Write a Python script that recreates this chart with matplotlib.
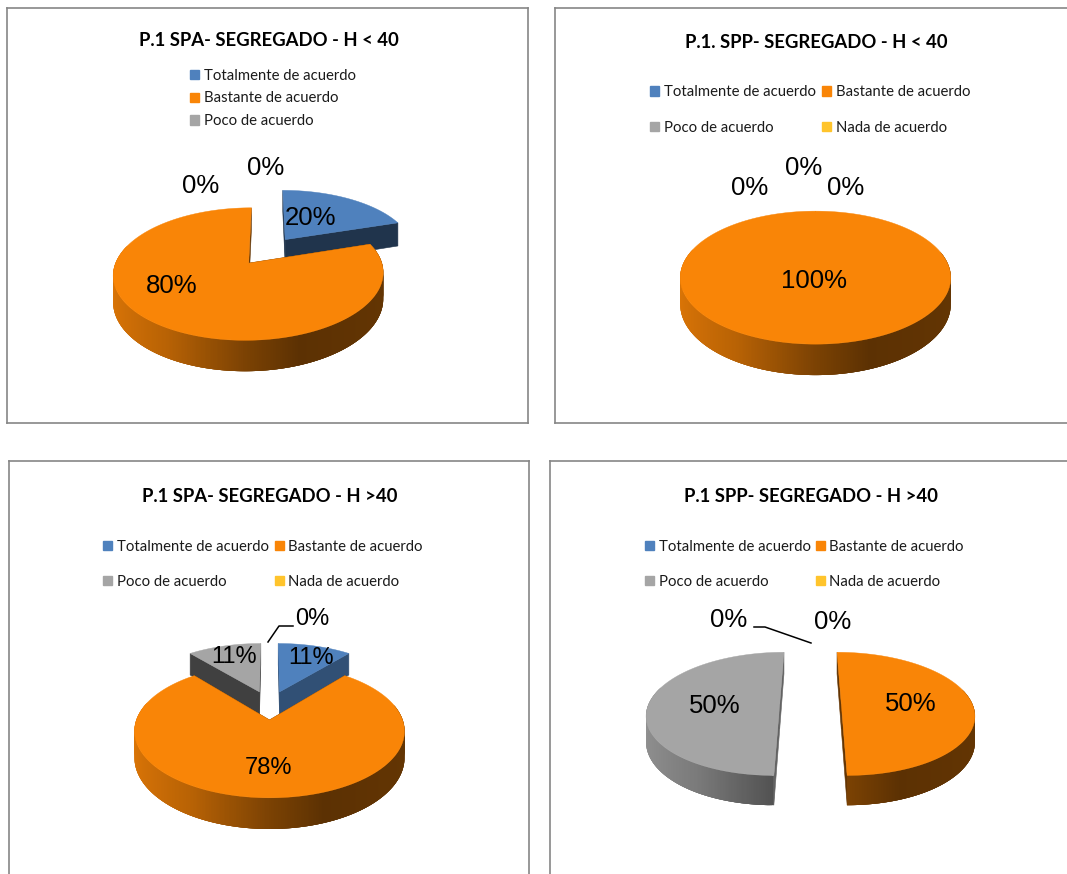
import numpy as np
import matplotlib
matplotlib.use('Agg')
import matplotlib.pyplot as plt
from matplotlib.patches import Patch

W, H = 1067, 874

# data
categories = ['Totalmente de acuerdo', 'Bastante de acuerdo', 'Poco de acuerdo', 'Nada de acuerdo']
titles = ['P.1 SPA- SEGREGADO - H < 40', 'P.1. SPP- SEGREGADO - H < 40',
          'P.1 SPA- SEGREGADO - H >40', 'P.1 SPP- SEGREGADO - H >40']
spa_low = [20, 80, 0, 0]
spp_low = [0, 100, 0, 0]
spa_high = [11, 78, 11, 0]
spp_high = [0, 50, 50, 0]

colors = ['#4F81BD', '#F98507', '#A5A5A5', '#FFC42C']


def shade_of(th):
    # wall gets darker from left to right
    return np.interp(np.sin(th), [-1, -0.5, 0, 0.35, 1], [0.88, 0.74, 0.5, 0.37, 0.40])


def darker(col, f):
    return np.array(matplotlib.colors.to_rgb(col)) * f


def project(X, Z, p):
    w = 1 + p['k'] * Z
    return p['cx'] + p['R'] * X / w, p['cy'] - p['S'] * Z / w, w


def pie3d(ax, values, p):
    fr = np.array(values, dtype=float) / sum(values)
    ends = np.cumsum(fr) * 2 * np.pi
    starts = ends - fr * 2 * np.pi
    todo = []
    for i in range(len(values)):
        if values[i] == 0:
            continue
        mid = (starts[i] + ends[i]) / 2
        ox, oz = p['e'] * np.sin(mid), p['e'] * np.cos(mid)
        todo.append((oz, i, ox))
    todo.sort(reverse=True)
    for oz, i, ox in todo:
        col = colors[i]
        th = np.linspace(starts[i], ends[i], max(int((ends[i] - starts[i]) * 90), 2))
        X = np.concatenate([[ox], ox + np.sin(th), [ox]])
        Z = np.concatenate([[oz], oz + np.cos(th), [oz]])
        x, y, w = project(X, Z, p)
        d = p['D'] / w
        # cut faces
        if values[i] < sum(values):
            cs = p['cut'][i]
            ax.fill([x[0], x[1], x[1], x[0]], [y[0], y[1], y[1] + d[1], y[0] + d[0]],
                    color=darker(col, cs), lw=0.4, zorder=3)
            ax.fill([x[0], x[-2], x[-2], x[0]], [y[0], y[-2], y[-2] + d[-2], y[0] + d[0]],
                    color=darker(col, cs), lw=0.4, zorder=3)
        # outer wall, each piece overlaps the next so no seams show
        for j in range(1, len(th)):
            if np.cos(th[j - 1]) > 0.25:
                continue
            k = min(j + 4, len(th))
            xs = np.concatenate([x[j:k + 1], x[j:k + 1][::-1]])
            ys = np.concatenate([y[j:k + 1], (y + d)[j:k + 1][::-1]])
            ax.fill(xs, ys, color=darker(col, shade_of(th[j - 1])), lw=0, zorder=3)
        ax.fill(x, y, color=col, lw=0.3, zorder=3)


panels = [
    dict(vals=spa_low, box=(7, 8, 528, 423), title=(268.5, 40),
         p=dict(cx=267.5, cy=251, R=129, S=60.5, k=0.16, e=0.24, D=25, cut=[0.4, 0.4, 0.4, 0.4]),
         ncol=1, n=3, leg=(177, 55.5), lsp=0.58, col=0.5,
         lab=[(311, 218), (172, 286), (201, 186), (266, 168)], fs=18.5, lead=None),
    dict(vals=spp_low, box=(555, 8, 1090, 423), title=(816, 43),
         p=dict(cx=815.5, cy=267, R=133.5, S=64.8, k=0.16, e=0.0, D=26, cut=[0.4, 0.4, 0.4, 0.4]),
         ncol=2, n=4, leg=(637, 72), lsp=1.45, col=0.45,
         lab=[(846, 188), (814, 281), (750, 188), (804, 168)], fs=18.5, lead=None),
    dict(vals=spa_high, box=(9, 461, 529, 900), title=(269.5, 496),
         p=dict(cx=269.5, cy=705, R=128, S=60, k=0.16, e=0.24, D=25, cut=[0.62, 0.4, 0.39, 0.4]),
         ncol=2, n=4, leg=(90, 526.5), lsp=1.42, col=0.4,
         lab=[(311, 658), (268, 768), (234, 657), (312, 619)], fs=17, lead=([268, 279, 293], [642, 626, 626])),
    dict(vals=spp_high, box=(550, 461, 1090, 900), title=(811, 496),
         p=dict(cx=810.5, cy=704, R=131, S=60, k=0.16, e=0.235, D=25, cut=[0.4, 0.4, 0.6, 0.4]),
         ncol=2, n=4, leg=(632, 526.5), lsp=1.42, col=0.35,
         lab=[(833, 622), (911, 704), (715, 706), (729, 620)], fs=18.5,
         lead=([754, 765, 811], [627, 627, 643])),
]

fig = plt.figure(figsize=(W / 100, H / 100), dpi=100)

for P in panels:
    x0, y0, x1, y1 = P['box']
    ax = fig.add_axes([x0 / W, 1 - y1 / H, (x1 - x0) / W, (y1 - y0) / H])
    ax.set_xlim(x0, x1)
    ax.set_ylim(y1, y0)
    ax.set_xticks([])
    ax.set_yticks([])
    for s in ax.spines.values():
        s.set_color('#868686')
        s.set_linewidth(1.2)

    pie3d(ax, P['vals'], P['p'])

    for v, (lx, ly) in zip(P['vals'], P['lab']):
        ax.text(lx, ly, '%d%%' % v, family='Liberation Sans', fontsize=P['fs'],
                ha='center', va='center', color='black', zorder=10)
    if P['lead']:
        ax.plot(P['lead'][0], P['lead'][1], color='black', lw=1.1, zorder=10)

    ti = titles[panels.index(P)]
    ax.text(P['title'][0], P['title'][1], ti, family='Lato', weight='bold', fontsize=13.35,
            ha='center', va='center', color='black')

    handles = [Patch(color=colors[i], label=categories[i]) for i in range(P['n'])]
    if P['ncol'] == 2:
        handles = [handles[0], handles[2], handles[1], handles[3]]
    ax.legend(handles=handles, ncol=P['ncol'], loc='upper left', frameon=False,
              bbox_to_anchor=(P['leg'][0], P['leg'][1]), bbox_transform=ax.transData,
              prop=dict(family='Lato', size=10.7), handlelength=0.6, handleheight=0.6,
              handletextpad=0.3, labelspacing=P['lsp'], columnspacing=P['col'],
              borderpad=0.4, labelcolor='#1a1a1a')

fig.savefig('out.png', dpi=100, facecolor='white')
